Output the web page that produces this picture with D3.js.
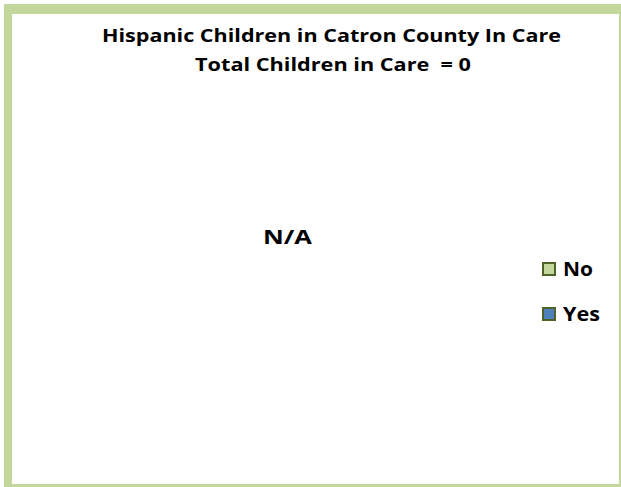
<!DOCTYPE html>
<html>
<head>
<meta charset="utf-8">
<script src="https://cdn.jsdelivr.net/npm/d3@7"></script>
<style>
  html, body { margin: 0; padding: 0; background: #ffffff; }
  svg { display: block; }
</style>
</head>
<body>
<svg id="chart" width="621" height="487"></svg>
<script>
const categories = ["No", "Yes"];
const values = [0, 0];
const seriesColors = ["#c3d69b", "#4f81bd"];
const titleLines = ["Hispanic Children in Catron County In Care", "Total Children in Care  = 0"];
const emptyLabel = "N/A";

const svg = d3.select("#chart");
const font = "'Open Sans', 'Noto Sans', sans-serif";

// frame
svg.append("rect").attr("x", 4).attr("y", 4).attr("width", 617).attr("height", 483).attr("fill", "#c3d69b");
svg.append("rect").attr("x", 12).attr("y", 14).attr("width", 607).attr("height", 470).attr("fill", "#ffffff");

// title
const titleX = [102, 195];
const titleWidths = [459, 276];
svg.selectAll("text.title").data(titleLines).enter().append("text")
  .attr("class", "title")
  .attr("x", (d, i) => titleX[i])
  .attr("y", (d, i) => 42 + i * 29)
  .attr("font-family", font)
  .attr("font-weight", "bold")
  .attr("font-size", 18.5)
  .attr("fill", "#000")
  .attr("textLength", (d, i) => titleWidths[i])
  .attr("lengthAdjust", "spacingAndGlyphs")
  .style("white-space", "pre")
  .text(d => d);

// pie (all values zero -> nothing drawn)
const total = d3.sum(values);
const pie = d3.pie().sort(null).value(d => d);
const arc = d3.arc().innerRadius(0).outerRadius(120);
const g = svg.append("g").attr("transform", "translate(289,250)");
if (total > 0) {
  g.selectAll("path").data(pie(values)).enter().append("path")
    .attr("d", arc).attr("fill", (d, i) => seriesColors[i]);
} else {
  svg.append("text")
    .attr("x", 263).attr("y", 244)
    .attr("font-family", font).attr("font-weight", "bold").attr("font-size", 19)
    .attr("textLength", 49).attr("lengthAdjust", "spacingAndGlyphs")
    .text(emptyLabel);
}

// legend
const color = d3.scaleOrdinal().domain(categories).range(seriesColors);
const legendY = d3.scalePoint().domain(categories).range([269, 314]);
const legendW = { "No": 30, "Yes": 37 };
const leg = svg.selectAll("g.leg").data(categories).enter().append("g")
  .attr("class", "leg")
  .attr("transform", d => `translate(542,${legendY(d)})`);
leg.append("rect")
  .attr("x", 1).attr("y", -6).attr("width", 12).attr("height", 12)
  .attr("fill", d => color(d))
  .attr("stroke", "#4f6228").attr("stroke-width", 2);
leg.append("text")
  .attr("x", 21).attr("y", 7)
  .attr("font-family", font).attr("font-weight", "bold").attr("font-size", 19)
  .attr("textLength", d => legendW[d]).attr("lengthAdjust", "spacingAndGlyphs")
  .text(d => d);
</script>
</body>
</html>
